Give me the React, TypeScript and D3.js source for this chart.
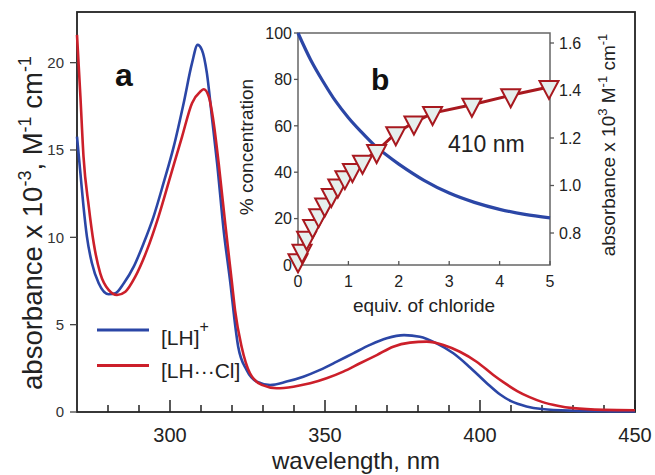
import React from "react";
import * as d3 from "d3";

// ---- Main panel (a): absorbance spectra ----
const blueWavelength = [270, 271.1, 272.1, 273.2, 274.8, 277.0, 280.2, 282.4, 285.1, 288.3, 291.5, 294.7, 297.9, 301.2, 304.4, 307.1, 308.9, 310.3, 311.9, 313.5, 315.2, 317.3, 319.6, 320.6, 322.0, 324.7, 328.0, 332.3, 337.6, 343.0, 348.4, 353.8, 359.1, 364.5, 369.9, 375.5, 380.6, 386.0, 391.4, 396.8, 402.2, 406.5, 410, 415, 420, 430, 440, 450];
const blueAbsorbance = [15.77, 13.67, 11.76, 10.04, 8.53, 7.37, 6.74, 6.80, 7.37, 8.32, 9.66, 11.19, 13.10, 15.19, 17.68, 19.97, 21.02, 20.73, 19.40, 16.91, 14.24, 10.42, 7.2, 5.6, 3.74, 2.41, 1.74, 1.55, 1.74, 2.02, 2.41, 2.88, 3.36, 3.84, 4.22, 4.40, 4.31, 3.93, 3.36, 2.55, 1.65, 1.0, 0.62, 0.32, 0.17, 0.07, 0.04, 0.03];

const redWavelength = [270, 271.1, 272.1, 273.8, 275.4, 277.5, 280.2, 282.9, 285.6, 288.8, 292.6, 296.3, 300.1, 303.9, 307.1, 309.8, 310.9, 312.5, 314.1, 315.7, 317.8, 320.0, 321.0, 323.1, 325.8, 329.6, 334.4, 339.8, 345.2, 350.5, 355.9, 361.3, 366.7, 372.0, 377.4, 382.8, 388.2, 393.5, 398.9, 404.3, 408, 412, 416, 420, 425, 430, 440, 450];
const redAbsorbance = [21.59, 18.06, 14.62, 11.76, 9.66, 7.94, 6.99, 6.70, 6.89, 7.75, 9.28, 11.19, 13.48, 15.77, 17.68, 18.35, 18.48, 18.06, 16.54, 14.24, 10.81, 7.37, 5.8, 3.74, 2.22, 1.55, 1.36, 1.45, 1.64, 1.93, 2.31, 2.79, 3.26, 3.74, 3.97, 4.03, 3.84, 3.45, 2.88, 2.12, 1.65, 1.2, 0.85, 0.58, 0.36, 0.22, 0.12, 0.1];

const mainXMajor = [300, 350, 400, 450];
const mainXMinor = [280, 290, 310, 320, 330, 340, 360, 370, 380, 390, 410, 420, 430, 440];
const mainYTicks = [0, 5, 10, 15, 20];

// ---- Inset panel (b): titration ----
const insetEquiv = [0, 0.25, 0.5, 0.75, 1.0, 1.25, 1.5, 1.75, 2.0, 2.5, 3.0, 3.5, 4.0, 4.5, 5.0];
const insetPercent = [100, 88.5, 79, 70.5, 63.5, 57.5, 52, 47.5, 43.5, 36.5, 31, 27, 24, 21.8, 20.3];

const triEquiv = [0, 0.08, 0.17, 0.29, 0.41, 0.53, 0.66, 0.79, 0.93, 1.08, 1.28, 1.56, 1.94, 2.3, 2.67, 3.45, 4.22, 4.98];
const triAbsorbance = [0.685, 0.725, 0.78, 0.83, 0.875, 0.92, 0.96, 1.0, 1.035, 1.065, 1.10, 1.145, 1.22, 1.265, 1.305, 1.34, 1.38, 1.415];

const insetXTicks = [0, 1, 2, 3, 4, 5];
const insetYLeftTicks = [0, 20, 40, 60, 80, 100];
const insetYRightTicks = [0.8, 1.0, 1.2, 1.4, 1.6];

const FONT = "'Liberation Sans', Arial, Helvetica, sans-serif";
const BLUE = "#2b46a6";
const RED = "#cc1f2a";
const DARKRED = "#a8191f";

export default function App() {
  const x = d3.scaleLinear().domain([270, 450]).range([77, 635]);
  const y = d3.scaleLinear().domain([0, 22.9]).range([412, 12]);

  const xi = d3.scaleLinear().domain([0, 5]).range([298, 550]);
  const yiL = d3.scaleLinear().domain([0, 100]).range([265, 33]);
  const yiR = d3.scaleLinear().domain([0.6653, 1.6421]).range([265, 33]);

  const lineMain = d3
    .line<[number, number]>()
    .x((d) => x(d[0]))
    .y((d) => y(d[1]))
    .curve(d3.curveMonotoneX);

  const bluePts = blueWavelength.map((w, i) => [w, blueAbsorbance[i]] as [number, number]);
  const redPts = redWavelength.map((w, i) => [w, redAbsorbance[i]] as [number, number]);

  const insetBlue = d3
    .line<[number, number]>()
    .x((d) => xi(d[0]))
    .y((d) => yiL(d[1]))
    .curve(d3.curveCatmullRom.alpha(0.5))(insetEquiv.map((e, i) => [e, insetPercent[i]] as [number, number]));

  const triPts = triEquiv.map((e, i) => [xi(e), yiR(triAbsorbance[i])]);
  const triLine = d3.line().curve(d3.curveLinear)(triPts as [number, number][]);

  const tw = 19;
  const th = 18;
  const triPath = (cx: number, cy: number) =>
    `M${cx - tw / 2},${cy - th / 3}L${cx + tw / 2},${cy - th / 3}L${cx},${cy + (2 * th) / 3}Z`;

  return (
    <svg
      width={655}
      height={475}
      style={{ position: "absolute", left: 0, top: 0, background: "#fff" }}
      fontFamily={FONT}
    >
      {/* main frame */}
      <rect x={77} y={12} width={558} height={400} fill="none" stroke="#222" strokeWidth={1.8} />

      {/* main x ticks (inside) */}
      {mainXMinor.map((t) => (
        <line key={"mn" + t} x1={x(t)} x2={x(t)} y1={412} y2={405} stroke="#222" strokeWidth={1.5} />
      ))}
      {mainXMajor.map((t) => (
        <line key={"mj" + t} x1={x(t)} x2={x(t)} y1={412} y2={400} stroke="#222" strokeWidth={1.5} />
      ))}
      {mainXMajor.map((t) => (
        <text key={"ml" + t} x={x(t)} y={442} fontSize={20} textAnchor="middle" fill="#222">
          {t}
        </text>
      ))}

      {/* main y ticks (outside) */}
      {mainYTicks.map((t) => (
        <g key={"my" + t}>
          <line x1={70} x2={77} y1={y(t)} y2={y(t)} stroke="#444" strokeWidth={1.3} />
          <text x={64} y={y(t)} dy="0.36em" fontSize={15} textAnchor="end" fill="#333">
            {t}
          </text>
        </g>
      ))}

      {/* axis titles */}
      <text x={356} y={469} fontSize={24} textAnchor="middle" fill="#222">
        wavelength, nm
      </text>
      <text transform="translate(42,223) rotate(-90)" fontSize={27.5} textAnchor="middle" fill="#222">
        absorbance x 10
        <tspan fontSize={18} dy={-11}>-3</tspan>
        <tspan dy={11}>, M</tspan>
        <tspan fontSize={18} dy={-11}>-1</tspan>
        <tspan dy={11}> cm</tspan>
        <tspan fontSize={18} dy={-11}>-1</tspan>
      </text>

      {/* spectra */}
      <path d={lineMain(bluePts) || ""} fill="none" stroke={BLUE} strokeWidth={2.6} />
      <path d={lineMain(redPts) || ""} fill="none" stroke={RED} strokeWidth={2.6} />

      <text x={115} y={86} fontSize={32} fontWeight="bold" fill="#111">
        a
      </text>

      {/* legend */}
      <line x1={97} x2={149} y1={330} y2={330} stroke={BLUE} strokeWidth={3} />
      <line x1={97} x2={149} y1={365.5} y2={365.5} stroke={RED} strokeWidth={3} />
      <text x={161} y={345} fontSize={21} fill="#222">
        [LH]
        <tspan fontSize={16} dy={-13}>+</tspan>
      </text>
      <text x={161} y={378} fontSize={21} fill="#222">
        [LH{"\u00B7\u00B7\u00B7"}Cl]
      </text>

      {/* ---- inset ---- */}
      <rect x={298} y={33} width={252} height={232} fill="none" stroke="#666" strokeWidth={1.5} />
      {insetXTicks.map((t) => (
        <g key={"ix" + t}>
          <line x1={xi(t)} x2={xi(t)} y1={265} y2={261} stroke="#555" strokeWidth={1.3} />
          <text x={xi(t)} y={287} fontSize={16} textAnchor="middle" fill="#222">
            {t}
          </text>
        </g>
      ))}
      {insetYLeftTicks.map((t) => (
        <g key={"il" + t}>
          <line x1={294} x2={298} y1={yiL(t)} y2={yiL(t)} stroke="#555" strokeWidth={1.3} />
          <text x={292} y={yiL(t)} dy="0.36em" fontSize={16} textAnchor="end" fill="#222">
            {t}
          </text>
        </g>
      ))}
      {insetYRightTicks.map((t) => (
        <g key={"ir" + t}>
          <line x1={550} x2={554} y1={yiR(t)} y2={yiR(t)} stroke="#555" strokeWidth={1.3} />
          <text x={559} y={yiR(t)} dy="0.36em" fontSize={16} textAnchor="start" fill="#222">
            {t.toFixed(1)}
          </text>
        </g>
      ))}
      <text x={424} y={312} fontSize={19} textAnchor="middle" fill="#222">
        equiv. of chloride
      </text>
      <text transform="translate(253,147) rotate(-90)" fontSize={19} textAnchor="middle" fill="#222">
        % concentration
      </text>
      <text transform="translate(615,145) rotate(-90)" fontSize={19} textAnchor="middle" fill="#222">
        absorbance x 10
        <tspan fontSize={13} dy={-8}>3</tspan>
        <tspan dy={8}> M</tspan>
        <tspan fontSize={13} dy={-8}>-1</tspan>
        <tspan dy={8}> cm</tspan>
        <tspan fontSize={13} dy={-8}>-1</tspan>
      </text>

      <path d={insetBlue || ""} fill="none" stroke={BLUE} strokeWidth={3.2} />
      <path d={triLine || ""} fill="none" stroke={DARKRED} strokeWidth={3} />
      {triPts.map((p, i) => (
        <path key={"tri" + i} d={triPath(p[0], p[1])} fill="#e6efed" stroke={DARKRED} strokeWidth={2} strokeLinejoin="miter" />
      ))}

      <text x={371} y={90} fontSize={30} fontWeight="bold" fill="#111">
        b
      </text>
      <text x={448} y={152} fontSize={23} fill="#222">
        410 nm
      </text>
    </svg>
  );
}
